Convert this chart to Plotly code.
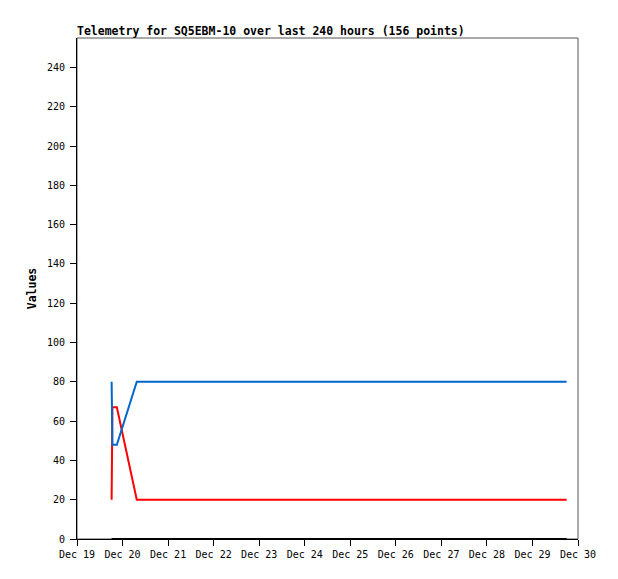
import plotly.graph_objects as go

TITLE = "Telemetry for SQ5EBM-10 over last 240 hours (156 points)"

blue_times = ["2023-12-19 18:15", "2023-12-19 18:20", "2023-12-19 18:40",
              "2023-12-19 21:00", "2023-12-20 07:30", "2023-12-29 18:00"]
blue_values = [80, 65, 48, 48, 80, 80]

red_times = ["2023-12-19 18:15", "2023-12-19 18:20", "2023-12-19 18:40",
             "2023-12-19 21:00", "2023-12-20 07:30", "2023-12-29 18:00"]
red_values = [20, 44, 67, 67, 20, 20]

black_times = ["2023-12-19 18:15", "2023-12-29 18:00"]
black_values = [0, 0]

FONT = "DejaVu Sans Mono"

# page body has an 8px margin, so the figure is sized to fit inside it
W, H = 610, 571

fig = go.Figure()
fig.add_trace(go.Scatter(x=black_times, y=black_values, mode="lines",
                         line={"color": "#000000", "width": 2}, cliponaxis=False))
fig.add_trace(go.Scatter(x=red_times, y=red_values, mode="lines",
                         line={"color": "#ff0000", "width": 2}))
fig.add_trace(go.Scatter(x=blue_times, y=blue_values, mode="lines",
                         line={"color": "#0066cc", "width": 2}))

# grey frame on top/right, black axis lines on left/bottom
fig.add_shape(type="rect", xref="paper", yref="paper", x0=0, y0=0, x1=1, y1=1,
              line={"color": "#555555", "width": 1}, layer="below")

fig.update_xaxes(
    range=["2023-12-19", "2023-12-30"],
    dtick=86400000,
    tick0="2023-12-19",
    tickformat="%b %d",
    ticks="outside",
    ticklen=6,
    tickcolor="#000000",
    showline=True,
    linecolor="#000000",
    linewidth=1,
    showgrid=False,
    zeroline=False,
    tickfont={"family": FONT, "size": 10, "color": "#000000"},
)
fig.update_yaxes(
    range=[0, 255],
    tick0=0,
    dtick=20,
    ticks="outside",
    ticklen=6,
    tickcolor="#000000",
    showline=True,
    linecolor="#000000",
    linewidth=1,
    showgrid=False,
    zeroline=False,
    ticklabelstandoff=3,
    title={"text": "<b>Values</b>", "standoff": 7,
           "font": {"family": FONT, "size": 11.5, "color": "#000000"}},
    tickfont={"family": FONT, "size": 10, "color": "#000000"},
)

fig.update_layout(
    width=W,
    height=H,
    showlegend=False,
    plot_bgcolor="#ffffff",
    paper_bgcolor="#ffffff",
    margin={"l": 69, "r": 40, "t": 30, "b": 40},
    title={"text": f"<b>{TITLE}</b>", "x": 69 / W, "xanchor": "left",
           "y": 1 - 23 / H, "yanchor": "middle",
           "font": {"family": FONT, "size": 11.5, "color": "#000000"}},
)

fig.write_html("out.html")
